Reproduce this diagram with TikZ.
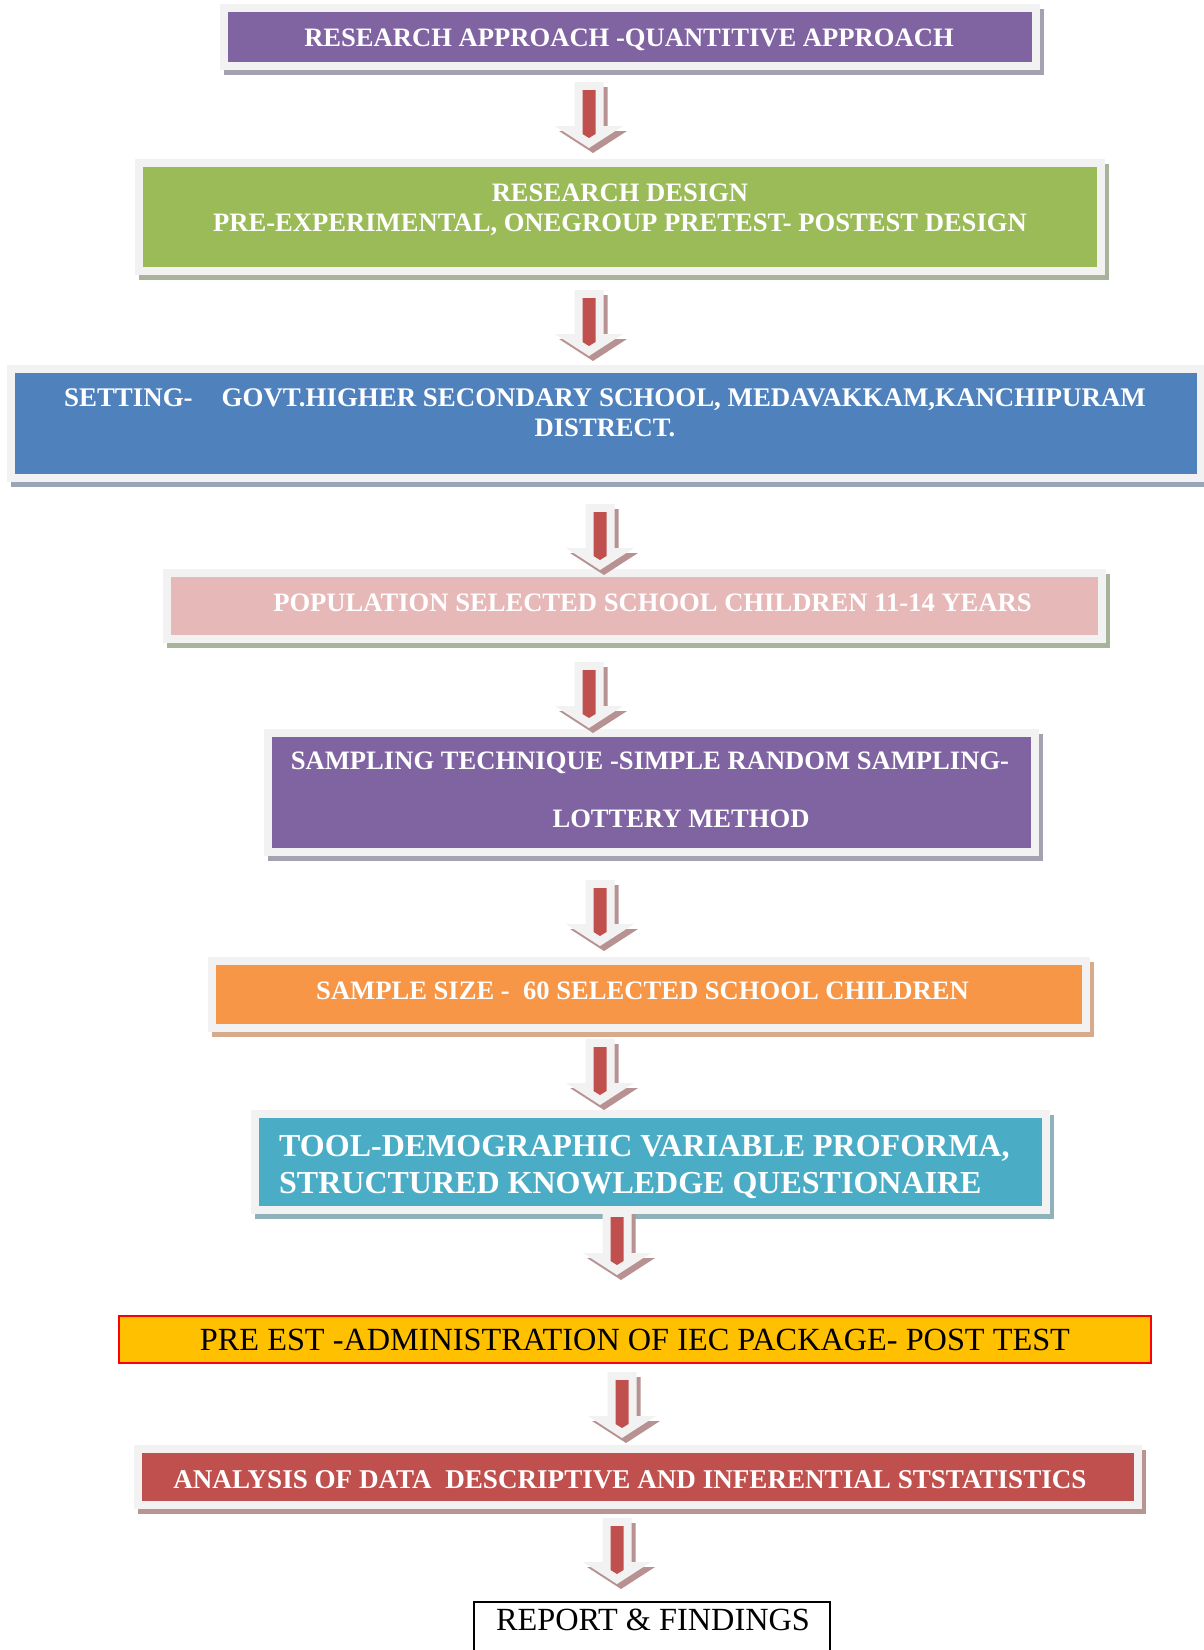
\documentclass[tikz,border=0pt]{standalone}
\usepackage{fontspec}
\setmainfont{Liberation Serif}
\definecolor{cPurple}{HTML}{8064A2}
\definecolor{cGreen}{HTML}{9BBB59}
\definecolor{cBlue}{HTML}{4F81BD}
\definecolor{cPink}{HTML}{E6B9B8}
\definecolor{cOrange}{HTML}{F79646}
\definecolor{cTeal}{HTML}{4BACC6}
\definecolor{cYellow}{HTML}{FFC000}
\definecolor{cRed}{HTML}{C0504D}
\definecolor{framecol}{HTML}{F2F2F2}
\definecolor{shPurple}{HTML}{A4A2B0}
\definecolor{shGreen}{HTML}{A9B39A}
\definecolor{shBlue}{HTML}{9AA6B8}
\definecolor{shPink}{HTML}{A8B49A}
\definecolor{shOrange}{HTML}{D8AA8C}
\definecolor{shTeal}{HTML}{8FB1BA}
\definecolor{shRed}{HTML}{B89493}
\definecolor{arrsh}{HTML}{B89292}
\newcommand\flowbox[7]{%
  \fill[#7] ({#2-4},{#3-3}) rectangle ({#4+12},{#5+13});
  \fill[framecol] ({#2-8},{#3-8}) rectangle ({#4+8},{#5+8});
  \node[fill=#6, inner sep=0, outer sep=0, minimum width={#4-#2}, minimum height={#5-#3}] (#1) at ({(#2+#4)/2},{(#3+#5)/2}) {};
}
\tikzset{
  wt/.style={text=white, font=\bfseries\fontsize{26.6}{30}\selectfont, inner sep=0, anchor=base},
  wtbig/.style={text=white, font=\bfseries\fontsize{32}{36}\selectfont, inner sep=0, anchor=base west},
  bt/.style={text=black, font=\fontsize{32.3}{36}\selectfont, inner sep=0, anchor=base},
  downarr/.pic={
    \fill[arrsh] (-10.5,5) -- (18.5,5) -- (18.5,49) -- (38,49) -- (4,71) -- (-30,49) -- (-10.5,49) -- cycle;
    \fill[framecol] (-14.5,0) -- (14.5,0) -- (14.5,44) -- (34,44) -- (0,66) -- (-34,44) -- (-14.5,44) -- cycle;
    \fill[cRed] (-6.5,8) -- (6.5,8) -- (6.5,52) -- (0,56) -- (-6.5,52) -- cycle;
  }
}
\begin{document}
\begin{tikzpicture}[x=1pt,y=-1pt]
\useasboundingbox (0,0) rectangle (1204,1650);
\clip (0,0) rectangle (1204,1650);
\fill[white] (0,0) rectangle (1204,1650);

\flowbox{b1}{228}{12}{1032}{62}{cPurple}{shPurple}
\flowbox{b2}{143}{167}{1097}{267}{cGreen}{shGreen}
\flowbox{b3}{15}{373}{1197}{474}{cBlue}{shBlue}
\flowbox{b4}{171}{577}{1098}{635}{cPink}{shPink}
\flowbox{b5}{272}{737}{1031}{848}{cPurple}{shPurple}
\flowbox{b6}{216}{965}{1082}{1024}{cOrange}{shOrange}
\flowbox{b7}{259}{1118}{1042}{1206}{cTeal}{shTeal}
\node[fill=cYellow, draw=red, line width=2pt, inner sep=0, minimum width=1032, minimum height=47] (b8) at (634.5,1339.5) {};
\flowbox{b9}{142}{1453}{1134}{1501}{cRed}{shRed}
\node[draw=black, line width=1.5pt, inner sep=0, minimum width=356, minimum height=70, anchor=north] (b10) at (652,1601) {};

\node[wt] (t1) at (629,46.8) {RESEARCH APPROACH -QUANTITIVE APPROACH};
\node[wt] (t2a) at (620,201.8) {RESEARCH DESIGN};
\node[wt] (t2b) at (620,231.8) {PRE-EXPERIMENTAL, ONEGROUP PRETEST- POSTEST DESIGN};
\node[wt, font=\bfseries\fontsize{26.9}{30}\selectfont] (t3a) at (605,406.8) {SETTING-\hspace{29pt}GOVT.HIGHER SECONDARY SCHOOL, MEDAVAKKAM,KANCHIPURAM};
\node[wt] (t3b) at (605,436.8) {DISTRECT.};
\node[wt] (t4) at (652.5,611.8) {POPULATION SELECTED SCHOOL CHILDREN 11-14 YEARS};
\node[wt] (t5a) at (650,769.8) {SAMPLING TECHNIQUE -SIMPLE RANDOM SAMPLING-};
\node[wt] (t5b) at (681,827.8) {LOTTERY METHOD};
\node[wt] (t6) at (642.5,999.8) {SAMPLE SIZE -\ \ 60 SELECTED SCHOOL CHILDREN};
\node[wtbig] (t7a) at (279,1156.6) {TOOL-DEMOGRAPHIC VARIABLE PROFORMA,};
\node[wtbig] (t7b) at (279,1193.6) {STRUCTURED KNOWLEDGE QUESTIONAIRE};
\node[bt] (t8) at (635,1350.6) {PRE EST -ADMINISTRATION OF IEC PACKAGE- POST TEST};
\node[wt, font=\bfseries\fontsize{27.1}{30}\selectfont] (t9) at (630,1488.8) {ANALYSIS OF DATA\ \ DESCRIPTIVE AND INFERENTIAL STSTATISTICS};
\node[bt] (t10) at (653,1630.8) {REPORT \& FINDINGS};

\pic at (589,82) {downarr};
\pic at (589,290) {downarr};
\pic at (600,504) {downarr};
\pic at (589,662) {downarr};
\pic at (600,880) {downarr};
\pic at (600,1039) {downarr};
\pic at (617,1209) {downarr};
\pic at (622,1372) {downarr};
\pic at (617,1518) {downarr};
\end{tikzpicture}
\end{document}
